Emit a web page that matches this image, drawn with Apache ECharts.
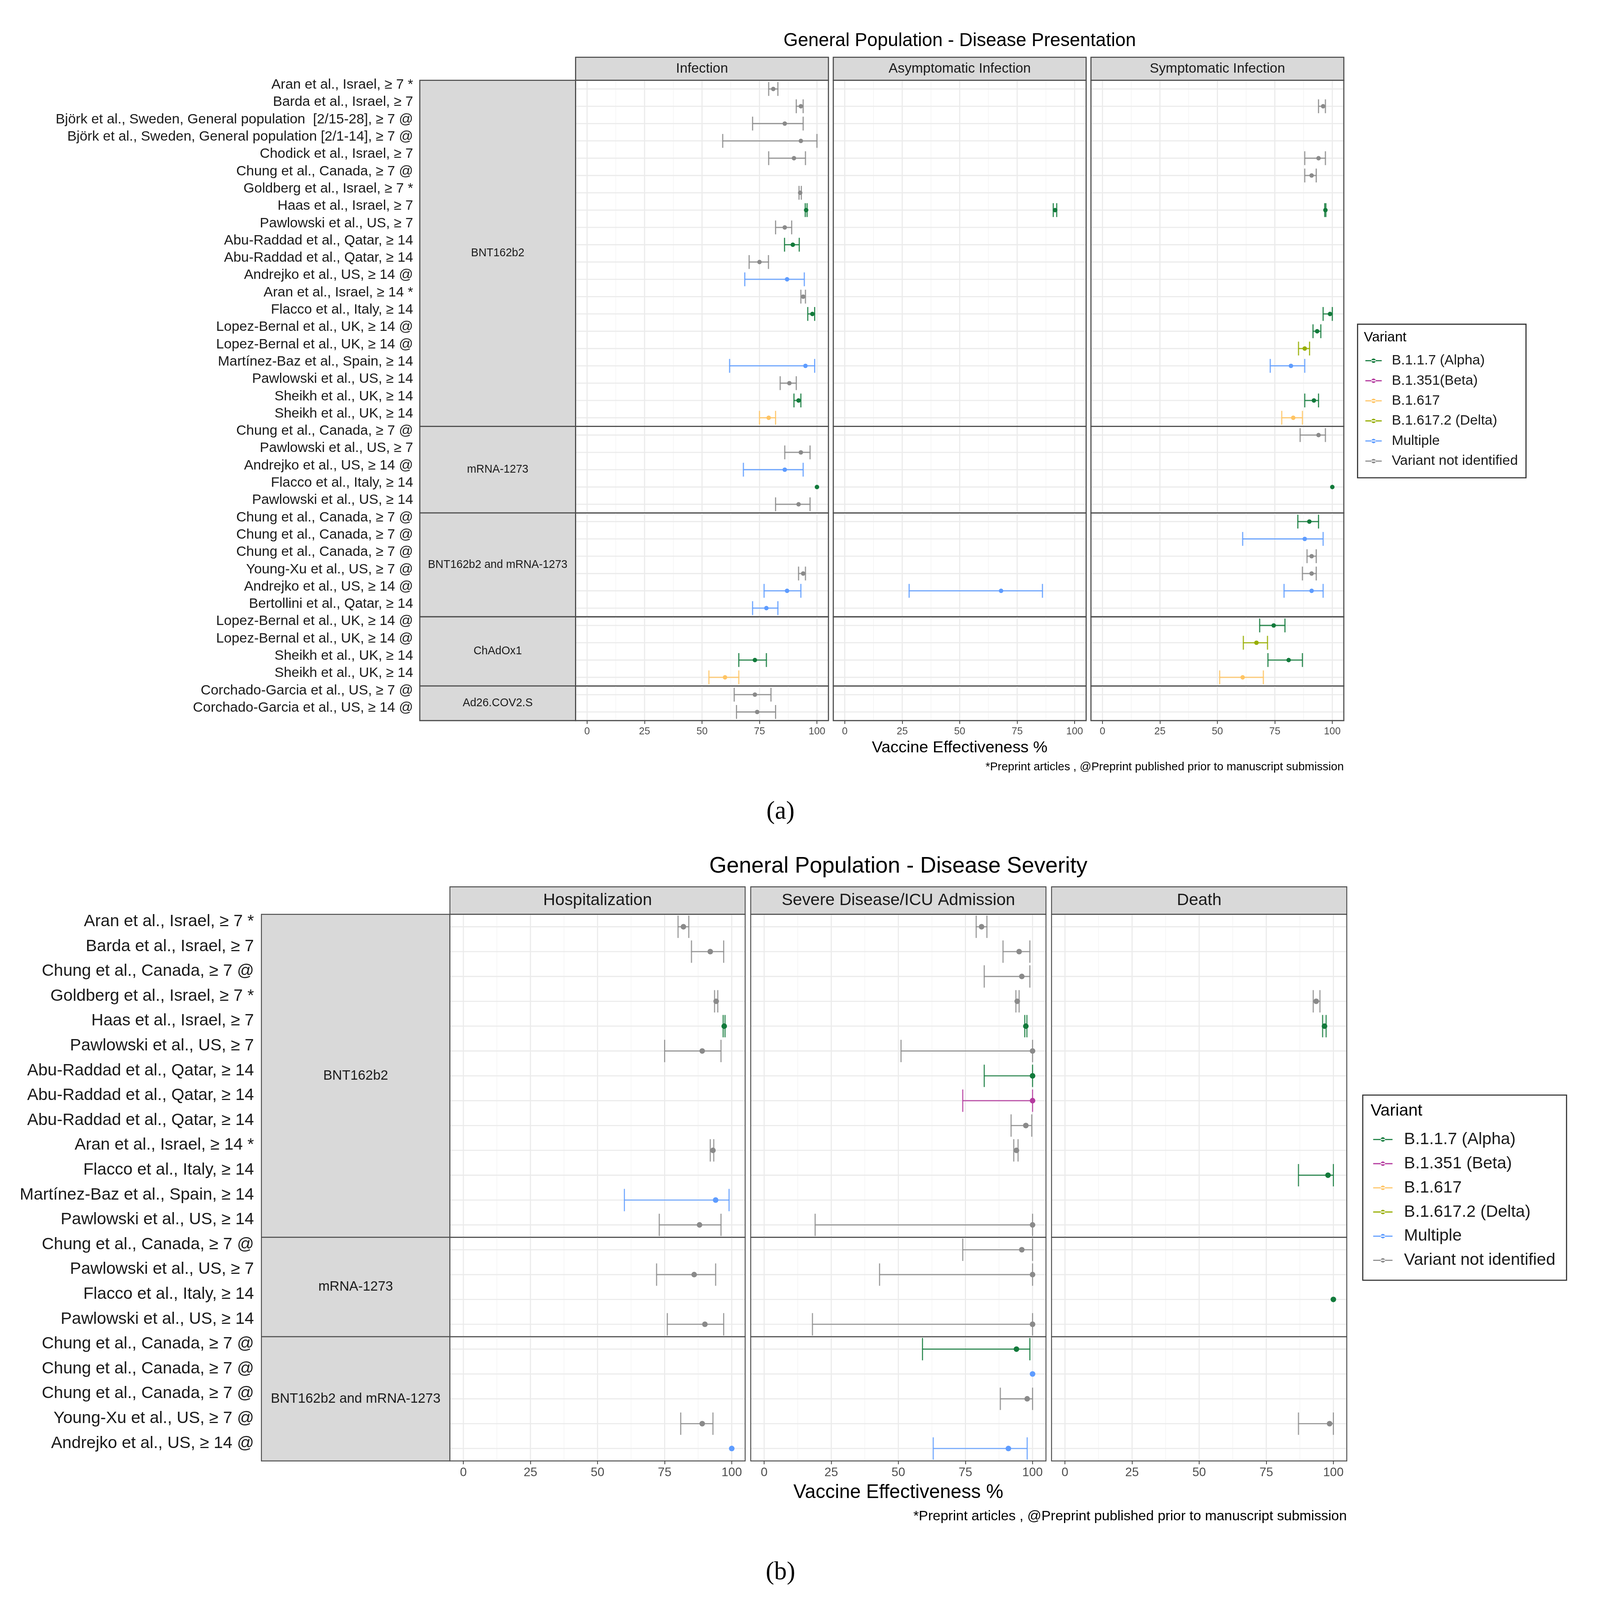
<!DOCTYPE html>
<html><head><meta charset="utf-8">
<script src="https://cdn.jsdelivr.net/npm/echarts@6/dist/echarts.min.js"></script>
<style>html,body{margin:0;padding:0;background:#fff;overflow:hidden}#c{width:4281px;height:4303px;transform-origin:0 0}</style>
</head><body><div id="c"></div>
<script>
// ---------------- DATA ----------------
const variantNamesA = ['B.1.1.7 (Alpha)','B.1.351(Beta)','B.1.617','B.1.617.2 (Delta)','Multiple','Variant not identified'];
const variantNamesB = ['B.1.1.7 (Alpha)','B.1.351 (Beta)','B.1.617','B.1.617.2 (Delta)','Multiple','Variant not identified'];
const variantColors = ['#127A3B','#B4399E','#FFC463','#98AE00','#5E9CFF','#8A8A8A'];
const xTickValues = [0,25,50,75,100];
const xMinorValues = [12.5,37.5,62.5,87.5];

const outcomesA = ['Infection','Asymptomatic Infection','Symptomatic Infection'];
const vaccinesA = ['BNT162b2','mRNA-1273','BNT162b2 and mRNA-1273','ChAdOx1','Ad26.COV2.S'];
const studiesA_BNT = [
 'Aran et al., Israel, ≥ 7 *','Barda et al., Israel, ≥ 7',
 'Björk et al., Sweden, General population  [2/15-28], ≥ 7 @','Björk et al., Sweden, General population [2/1-14], ≥ 7 @',
 'Chodick et al., Israel, ≥ 7','Chung et al., Canada, ≥ 7 @','Goldberg et al., Israel, ≥ 7 *','Haas et al., Israel, ≥ 7',
 'Pawlowski et al., US, ≥ 7','Abu-Raddad et al., Qatar, ≥ 14','Abu-Raddad et al., Qatar, ≥ 14','Andrejko et al., US, ≥ 14 @',
 'Aran et al., Israel, ≥ 14 *','Flacco et al., Italy, ≥ 14','Lopez-Bernal et al., UK, ≥ 14 @','Lopez-Bernal et al., UK, ≥ 14 @',
 'Martínez-Baz et al., Spain, ≥ 14','Pawlowski et al., US, ≥ 14','Sheikh et al., UK, ≥ 14','Sheikh et al., UK, ≥ 14'];
const studiesA_mRNA = ['Chung et al., Canada, ≥ 7 @','Pawlowski et al., US, ≥ 7','Andrejko et al., US, ≥ 14 @','Flacco et al., Italy, ≥ 14','Pawlowski et al., US, ≥ 14'];
const studiesA_Both = ['Chung et al., Canada, ≥ 7 @','Chung et al., Canada, ≥ 7 @','Chung et al., Canada, ≥ 7 @','Young-Xu et al., US, ≥ 7 @','Andrejko et al., US, ≥ 14 @','Bertollini et al., Qatar, ≥ 14'];
const studiesA_ChAd = ['Lopez-Bernal et al., UK, ≥ 14 @','Lopez-Bernal et al., UK, ≥ 14 @','Sheikh et al., UK, ≥ 14','Sheikh et al., UK, ≥ 14'];
const studiesA_Ad26 = ['Corchado-Garcia et al., US, ≥ 7 @','Corchado-Garcia et al., US, ≥ 14 @'];

// [row, variant, estimate, lower, upper]
const infectionA = [
 [0,5,81,79,83],[1,5,93,91,94],[2,5,86,72,94],[3,5,93,59,100],[4,5,90,79,95],[6,5,92.7,92.2,93.2],
 [7,0,95.3,94.9,95.7],[8,5,86,82,89],[9,0,89.5,85.9,92.3],[10,5,75,70.5,78.9],[11,4,87,68.6,94.5],
 [12,5,94,93,95],[13,0,98,96,99],[16,4,95,62,99],[17,5,88,84,91],[18,0,92,90,93],[19,2,79,75,82],
 [21,5,93,86,97],[22,4,86,68,94],[23,0,100,null,null],[24,5,92,82,97],
 [28,5,94,92,95],[29,4,87,77,93],[30,4,78,72,83],
 [33,0,73,66,78],[34,2,60,53,66],[35,5,73,64,80],[36,5,74,65,82]];
const asymptomaticA = [[7,0,91.5,90.7,92.2],[29,4,68,28,86]];
const symptomaticA = [
 [1,5,96,94,97],[4,5,94,88,97],[5,5,91,88,93],[7,0,97,96.7,97.2],[13,0,99,96,100],
 [14,0,93.4,91.6,95.0],[15,3,88,85.3,90.1],[16,4,82,73,88],[18,0,92,88,94],[19,2,83,78,87],
 [20,5,94,86,97],[23,0,100,null,null],
 [25,0,90,85,94],[26,4,88,61,96],[27,5,91,89,93],[28,5,91,87,93],[29,4,91,79,96],
 [31,0,74.5,68.4,79.4],[32,3,67,61.3,71.8],[33,0,81,72,87],[34,2,61,51,70]];

const outcomesB = ['Hospitalization','Severe Disease/ICU Admission','Death'];
const vaccinesB = ['BNT162b2','mRNA-1273','BNT162b2 and mRNA-1273'];
const studiesB_BNT = [
 'Aran et al., Israel, ≥ 7 *','Barda et al., Israel, ≥ 7','Chung et al., Canada, ≥ 7 @','Goldberg et al., Israel, ≥ 7 *',
 'Haas et al., Israel, ≥ 7','Pawlowski et al., US, ≥ 7','Abu-Raddad et al., Qatar, ≥ 14','Abu-Raddad et al., Qatar, ≥ 14',
 'Abu-Raddad et al., Qatar, ≥ 14','Aran et al., Israel, ≥ 14 *','Flacco et al., Italy, ≥ 14','Martínez-Baz et al., Spain, ≥ 14',
 'Pawlowski et al., US, ≥ 14'];
const studiesB_mRNA = ['Chung et al., Canada, ≥ 7 @','Pawlowski et al., US, ≥ 7','Flacco et al., Italy, ≥ 14','Pawlowski et al., US, ≥ 14'];
const studiesB_Both = ['Chung et al., Canada, ≥ 7 @','Chung et al., Canada, ≥ 7 @','Chung et al., Canada, ≥ 7 @','Young-Xu et al., US, ≥ 7 @','Andrejko et al., US, ≥ 14 @'];

const hospitalizationB = [
 [0,5,82,80,84],[1,5,92,85,97],[3,5,94.2,93.6,94.8],[4,0,97.2,96.8,97.5],[5,5,89,75,96],
 [9,5,93,92,93.3],[11,4,94,60,99],[12,5,88,73,96],[14,5,86,72,94],[16,5,90,76,97],
 [20,5,89,81,93],[21,4,100,null,null]];
const severeB = [
 [0,5,81,79,83],[1,5,95,89,99],[2,5,96,82,99],[3,5,94.3,93.8,95],[4,0,97.5,97.1,97.9],[5,5,100,51,100],
 [6,0,100,82,100],[7,1,100,74,100],[8,5,97.5,92,99.7],[9,5,94,93,94.6],[12,5,100,19,100],
 [13,5,96,74,100],[14,5,100,43,100],[16,5,100,18,100],
 [17,0,94,59,99],[18,4,100,null,null],[19,5,98,88,100],[21,4,91,63,98]];
const deathB = [[3,5,93.6,92.5,95],[4,0,96.7,96,97.3],[10,0,98,87,100],[15,0,100,null,null],[20,5,98.6,87,100]];

// ---------------- LAYOUT ----------------
const FONT = 'Liberation Sans, Arial, sans-serif';
const LA = { colLeft:[1548,2241,2934], colWidth:680, top:216, height:1722,
  stripTop:154, stripH:62, vacLeft:1129, labelMargin:437, labelFont:37.5, labelShift:22,
  stripFont:37, vacFont:30, tickFont:27, tickMargin:16, border:3, dotR:6, lineW:3.2, capFrac:0.8, gridW:3 };
const LB = { colLeft:[1210,2019,2828], colWidth:794, top:2459, height:1470,
  stripTop:2385, stripH:74, vacLeft:703, labelMargin:527, labelFont:45, labelShift:28,
  stripFont:45, vacFont:36.5, tickFont:33, tickMargin:15, border:2.5, dotR:7.5, lineW:3, capFrac:0.9, gridW:3 };

const grids = [], xAxes = [], yAxes = [], series = [], graphics = [];
const BORDER = '#4D4D4D', STRIP = '#D9D9D9', TXT = '#1A1A1A';

function bgRender(n, L) {
  return function (params, api) {
    const cs = params.coordSys, ch = [];
    xMinorValues.forEach(v => { const x = api.coord([v, 0])[0];
      ch.push({type:'line', shape:{x1:x,y1:cs.y,x2:x,y2:cs.y+cs.height}, style:{stroke:'#F3F3F3', lineWidth:L.gridW*0.5}}); });
    xTickValues.forEach(v => { const x = api.coord([v, 0])[0];
      ch.push({type:'line', shape:{x1:x,y1:cs.y,x2:x,y2:cs.y+cs.height}, style:{stroke:'#EBEBEB', lineWidth:L.gridW}}); });
    for (let r = 0; r < n; r++) { const y = api.coord([0, r])[1];
      ch.push({type:'line', shape:{x1:cs.x,y1:y,x2:cs.x+cs.width,y2:y}, style:{stroke:'#EBEBEB', lineWidth:L.gridW}}); }
    ch.push({type:'rect', shape:{x:cs.x,y:cs.y,width:cs.width,height:cs.height}, style:{fill:'none', stroke:BORDER, lineWidth:L.border}});
    return {type:'group', children:ch};
  };
}
function errRender(color, L) {
  return function (params, api) {
    const est = api.value(0), row = api.value(1), lo = api.value(2), hi = api.value(3);
    const c = api.coord([est, row]);
    const band = api.size([0, 1])[1];
    const ch = [];
    if (!isNaN(lo) && !isNaN(hi) && lo !== null && hi !== null) {
      const pl = api.coord([lo, row])[0], ph = api.coord([hi, row])[0], h = band * L.capFrac / 2;
      const st = {stroke:color, lineWidth:L.lineW, opacity:0.85};
      ch.push({type:'line', shape:{x1:pl,y1:c[1],x2:ph,y2:c[1]}, style:st});
      ch.push({type:'line', shape:{x1:pl,y1:c[1]-h,x2:pl,y2:c[1]+h}, style:st});
      ch.push({type:'line', shape:{x1:ph,y1:c[1]-h,x2:ph,y2:c[1]+h}, style:st});
    }
    ch.push({type:'circle', shape:{cx:c[0], cy:c[1], r:L.dotR}, style:{fill:color}});
    return {type:'group', children:ch};
  };
}

function buildPanel(vaccines, studyGroups, outcomes, outcomeData, variantNames, L) {
  const totalRows = studyGroups.reduce((s, g) => s + g.length, 0);
  const rowH = L.height / totalRows;
  let y = L.top, rowStart = 0;
  studyGroups.forEach((labels, gi) => {
    const n = labels.length, h = n * rowH, isLast = gi === studyGroups.length - 1;
    graphics.push({type:'rect', shape:{x:L.vacLeft, y:y, width:L.colLeft[0]-L.vacLeft, height:h},
      style:{fill:STRIP, stroke:BORDER, lineWidth:L.border}, z:0});
    graphics.push({type:'text', x:(L.vacLeft+L.colLeft[0])/2, y:y+h/2,
      style:{text:vaccines[gi], fontSize:L.vacFont, fontFamily:FONT, fill:TXT, align:'center', verticalAlign:'middle'}, z:1});
    outcomes.forEach((o, oi) => {
      const gix = grids.length;
      grids.push({left:L.colLeft[oi], top:y, width:L.colWidth, height:h, containLabel:false});
      xAxes.push({type:'value', gridIndex:gix, min:-5, max:105,
        axisLine:{show:false}, splitLine:{show:false},
        axisTick:{show:isLast, customValues:xTickValues, length:9, lineStyle:{color:'#333', width:2}},
        axisLabel:{show:isLast, customValues:xTickValues, fontSize:L.tickFont, fontFamily:FONT, color:'#4D4D4D', margin:L.tickMargin}});
      yAxes.push({type:'category', gridIndex:gix, data:labels, inverse:true, boundaryGap:true,
        axisLine:{show:false}, axisTick:{show:false}, splitLine:{show:false},
        axisLabel:{show:oi===0, interval:0, margin:L.labelMargin, fontSize:L.labelFont, fontFamily:FONT, color:TXT,
          verticalAlign:'bottom', lineHeight:L.labelShift}});
      series.push({type:'custom', xAxisIndex:gix, yAxisIndex:gix, z:1, silent:true, data:[[0,0]], renderItem:bgRender(n, L)});
      variantNames.forEach((vn, vi) => {
        const d = outcomeData[oi].filter(r => r[0] >= rowStart && r[0] < rowStart + n && r[1] === vi)
          .map(r => [r[2], r[0] - rowStart, r[3] === null ? NaN : r[3], r[4] === null ? NaN : r[4]]);
        series.push({type:'custom', name:vn, xAxisIndex:gix, yAxisIndex:gix, z:3, silent:true,
          itemStyle:{color:variantColors[vi]}, encode:{x:0, y:1}, data:d, renderItem:errRender(variantColors[vi], L)});
      });
    });
    y += h; rowStart += n;
  });
  outcomes.forEach((o, oi) => {
    graphics.push({type:'rect', shape:{x:L.colLeft[oi], y:L.stripTop, width:L.colWidth, height:L.stripH},
      style:{fill:STRIP, stroke:BORDER, lineWidth:L.border}, z:0});
    graphics.push({type:'text', x:L.colLeft[oi]+L.colWidth/2, y:L.stripTop+L.stripH/2,
      style:{text:o, fontSize:L.stripFont, fontFamily:FONT, fill:TXT, align:'center', verticalAlign:'middle'}, z:1});
  });
}

buildPanel(vaccinesA, [studiesA_BNT, studiesA_mRNA, studiesA_Both, studiesA_ChAd, studiesA_Ad26],
  outcomesA, [infectionA, asymptomaticA, symptomaticA], variantNamesA, LA);
buildPanel(vaccinesB, [studiesB_BNT, studiesB_mRNA, studiesB_Both],
  outcomesB, [hospitalizationB, severeB, deathB], variantNamesB, LB);

function txt(t, x, y, size, align, extra) {
  graphics.push(Object.assign({type:'text', x:x, y:y, z:5,
    style:{text:t, fontSize:size, fontFamily:FONT, fill:'#000', align:align, verticalAlign:'middle'}}, extra || {}));
}
// panel (a) texts
txt('General Population - Disease Presentation', 2581, 110, 50, 'center');
txt('Vaccine Effectiveness %', 2581, 2011, 43.5, 'center');
txt('*Preprint articles , @Preprint published prior to manuscript submission', 3614, 2063, 31, 'right');
graphics.push({type:'text', x:2099, y:2184, z:5, style:{text:'(a)', fontSize:68, fontFamily:'Liberation Serif, Times New Roman, serif', fill:'#000', align:'center', verticalAlign:'middle'}});
// panel (b) texts
txt('General Population - Disease Severity', 2416, 2330, 60, 'center');
txt('Vaccine Effectiveness %', 2416, 4014, 52, 'center');
txt('*Preprint articles , @Preprint published prior to manuscript submission', 3622, 4078, 37.5, 'right');
graphics.push({type:'text', x:2099, y:4229, z:5, style:{text:'(b)', fontSize:68, fontFamily:'Liberation Serif, Times New Roman, serif', fill:'#000', align:'center', verticalAlign:'middle'}});

// legend boxes + titles
graphics.push({type:'rect', shape:{x:3651, y:872, width:453, height:413}, style:{fill:'#fff', stroke:'#333', lineWidth:3}, z:-1});
txt('Variant', 3668, 908, 37, 'left', {});
graphics.push({type:'rect', shape:{x:3665, y:2945, width:548, height:498}, style:{fill:'#fff', stroke:'#333', lineWidth:3}, z:-1});
txt('Variant', 3686, 2988, 45, 'left', {});

const iconA = 'path://M0,4.5L44,4.5L44,7.5L0,7.5Z M16,6a6,6 0 1,0 12,0a6,6 0 1,0 -12,0Z';
const iconB = 'path://M0,4.5L52,4.5L52,7.5L0,7.5Z M20,6a6,6 0 1,0 12,0a6,6 0 1,0 -12,0Z';

const option = {
  backgroundColor:'#fff',
  animation:false,
  grid:grids, xAxis:xAxes, yAxis:yAxes, series:series,
  legend:[
    {data:variantNamesA, orient:'vertical', left:3672, top:943, padding:0, itemGap:0, itemWidth:44, itemHeight:12,
     icon:iconA, selectedMode:false, z:6,
     textStyle:{fontSize:37.5, fontFamily:FONT, color:TXT, lineHeight:54, padding:[0,0,0,22]}},
    {data:variantNamesB, orient:'vertical', left:3693, top:3032, padding:0, itemGap:0, itemWidth:52, itemHeight:12,
     icon:iconB, selectedMode:false, z:6,
     textStyle:{fontSize:45, fontFamily:FONT, color:TXT, lineHeight:65, padding:[0,0,0,26]}}
  ],
  graphic:{elements:graphics}
};
// fit the 4281x4303 design into the actual viewport
const W = 4281, H = 4303;
const vw = window.innerWidth || W, vh = window.innerHeight || H;
const s = Math.min(vw / W, vh / H);
const el = document.getElementById('c');
el.style.transform = 'scale(' + s + ')';
const dpr = (window.devicePixelRatio || 1) * s;
const chart = echarts.init(el, null, {renderer:'canvas', devicePixelRatio: dpr, width: W, height: H});
chart.setOption(option);
</script></body></html>
